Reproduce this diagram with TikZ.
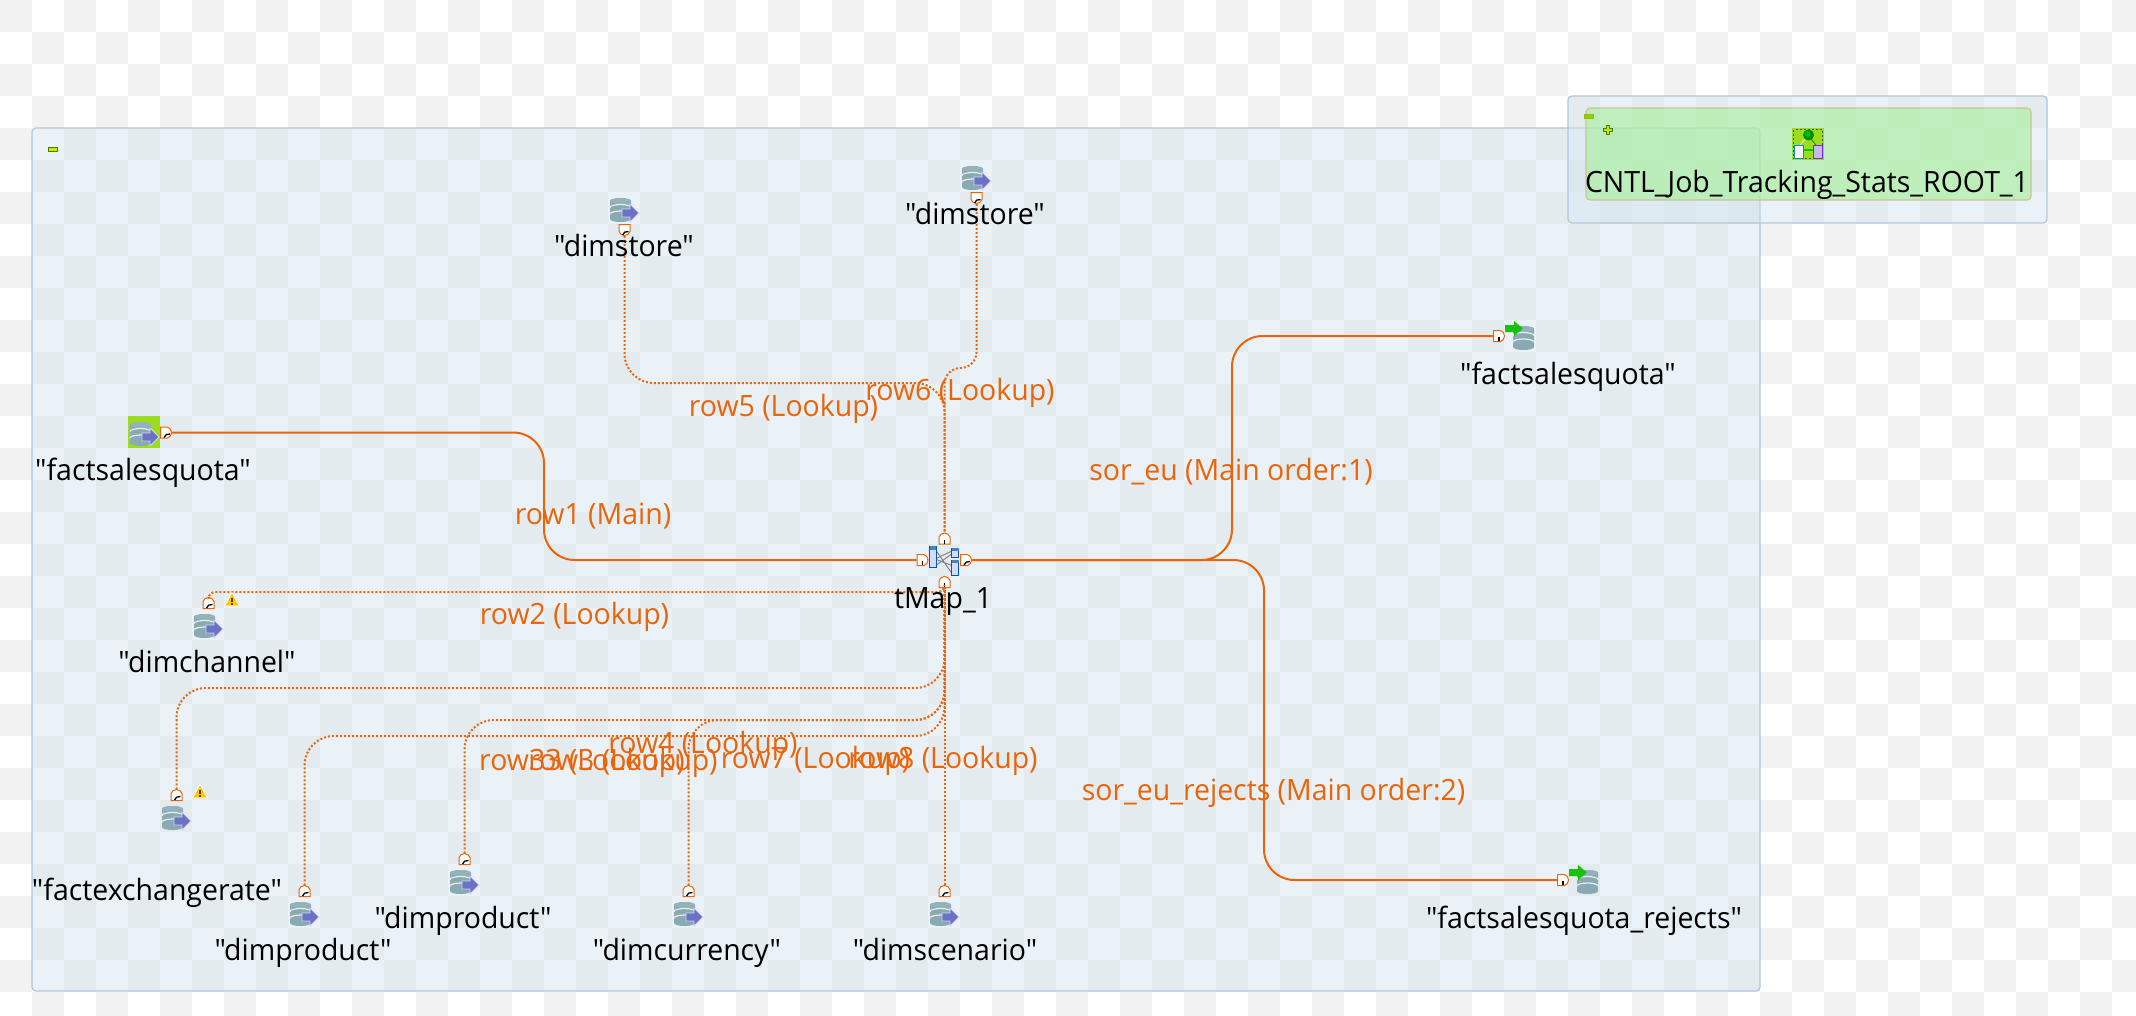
\documentclass[tikz,border=0pt]{standalone}
\usepackage{fontspec}
\newfontfamily\uif[FakeStretch=0.97]{Open Sans}
\usetikzlibrary{calc}
\definecolor{wirec}{HTML}{E8650A}
\definecolor{panelc}{HTML}{CFE2EC}
\definecolor{panelb}{HTML}{AFC6D8}
\definecolor{greenbox}{HTML}{A5F098}
\definecolor{greenb}{HTML}{C8C49A}
\definecolor{cyl}{HTML}{89A9B3}
\definecolor{arrowp}{HTML}{6B72C4}
\definecolor{arrowg}{HTML}{19C010}
\definecolor{lime}{HTML}{BBEE00}
\definecolor{limeb}{HTML}{4E7A00}
\definecolor{hilite}{HTML}{9ADC1E}
\definecolor{docp}{HTML}{C9B6F5}
\definecolor{docpb}{HTML}{7A2FD0}
\definecolor{warny}{HTML}{FFC800}
\tikzset{
  x=0.75pt,y=-0.75pt,
  wire/.style={draw=wirec,line width=1.5pt,rounded corners=23pt},
  lookup/.style={draw=wirec,line width=1.5pt,dash pattern=on 1.5pt off 1.5pt,rounded corners=22pt},
  lbl/.style={font=\uif\fontsize{22pt}{26pt}\selectfont,text=black,inner sep=0pt,anchor=base},
  olbl/.style={font=\uif\fontsize{22pt}{26pt}\selectfont,text=wirec,inner sep=0pt,anchor=base},
  portnode/.style={inner sep=0pt,minimum width=8.25pt,minimum height=8.25pt},
  cylpic/.pic={
    \fill[cyl] (0,3) arc[start angle=180,end angle=360,x radius=10.5,y radius=3] -- (21,21) arc[start angle=0,end angle=180,x radius=10.5,y radius=3] -- cycle;
    \fill[cyl!90!white] (10.5,3) ellipse[x radius=10.5,y radius=3];
    \draw[white!80!cyl,line width=0.9pt] (0,9.5) arc[start angle=180,end angle=360,x radius=10.5,y radius=3];
    \draw[white!80!cyl,line width=0.9pt] (0,16) arc[start angle=180,end angle=360,x radius=10.5,y radius=3];
  },
  dbin/.pic={
    \pic at (2,6) {cylpic};
    \filldraw[fill=arrowp,draw=white!70!arrowp,line width=0.6pt] (14,17) -- (22,17) -- (22,12) -- (31,21) -- (22,30) -- (22,25) -- (14,25) -- cycle;
  },
  dbout/.pic={
    \pic at (9,6) {cylpic};
    \fill[arrowg] (1,5) -- (10,5) -- (10,1) -- (19,8.5) -- (10,16) -- (10,12) -- (1,12) -- cycle;
  },
  portshape/.pic={
    \filldraw[fill=white,draw=wirec,line width=0.75pt] (-5.5,-5.5) -- (1.5,-5.5) .. controls (4,-5) and (5.5,-2) .. (5.5,0) .. controls (5.5,2) and (4,5) .. (1.5,5.5) -- (-5.5,5.5) -- cycle;
  },
  tickc/.pic={\draw[black,line width=1pt] (-2,5) .. controls (-1,2) and (1,1.5) .. (4,1.5);},
  tickl/.pic={\draw[black,line width=0.9pt] (0,1) -- (0,5);},
  warnt/.pic={
    \filldraw[fill=warny,draw=white,line width=0.6pt] (0,-7.5) -- (7.5,6) -- (-7.5,6) -- cycle;
    \draw[black!60!orange,line width=1.2pt] (0,-2.5) -- (0,1.5) (0,2.8) -- (0,4.6);
  },
}
\newcommand{\portn}[4]{%
  \node[portnode] (#1) at (#2) {};
  \pic[rotate=#3] at (#1) {portshape};
  \pic at (#1) {#4};
}
\begin{document}
\begin{tikzpicture}
\useasboundingbox (0,0) rectangle (2136,1015);
% checker background
\begin{scope}
  \clip (0,0) rectangle (2136,1015);
  \fill[white] (0,0) rectangle (2136,1015);
  \foreach \i in {0,...,66} \foreach \j in {0,...,31} {
    \pgfmathparse{int(mod(\i+\j,2))}
    \ifnum\pgfmathresult=0
      \fill[black!5] (\i*32,\j*32) rectangle ++(32,32);
    \fi
  }
\end{scope}
% panels
\filldraw[fill=panelc,fill opacity=0.42,draw=panelb,line width=0.9pt,rounded corners=3pt] (32,128) rectangle (1760,991);
\filldraw[fill=panelc,fill opacity=0.42,draw=panelb,line width=0.9pt,rounded corners=3pt] (1568,96) rectangle (2047,223);
\filldraw[fill=greenbox,fill opacity=0.6,draw=greenb,line width=0.9pt,rounded corners=3pt] (1586,108) rectangle (2031,200);
% collapse icons
\filldraw[fill=lime,draw=limeb,line width=0.7pt] (48.5,147.5) rectangle (57.5,151.5);
\filldraw[fill=lime!70!limeb,draw=lime!60!limeb,line width=0.7pt] (1584.5,114.5) rectangle (1593.5,118.5);
\filldraw[fill=lime,draw=limeb,line width=0.6pt] (1606.5,125.5) -- (1609.5,125.5) -- (1609.5,128.5) -- (1612.5,128.5) -- (1612.5,131.5) -- (1609.5,131.5) -- (1609.5,134.5) -- (1606.5,134.5) -- (1606.5,131.5) -- (1603.5,131.5) -- (1603.5,128.5) -- (1606.5,128.5) -- cycle;
% job icon
\fill[hilite] (1792,128) rectangle (1824,160);
\draw[black!70,line width=1pt,dash pattern=on 1.5pt off 1.5pt] (1793.5,129.5) rectangle (1822.5,158.5);
\draw[white,line width=0.5pt] (1800,145) -- (1806,138);
\draw[green!50!black,line width=0.5pt] (1816,145) -- (1810,138);
\draw[green!80!black,line width=0.8pt] (1803,150) -- (1813,150);
\fill[green!55!black] (1808.5,135) circle[radius=5.5];
\fill[green!75!black] (1807.5,134) circle[radius=3];
\filldraw[fill=blue!5,draw=cyan!70!blue,line width=0.7pt] (1794,145) rectangle (1803,158);
\filldraw[fill=docp,draw=docpb,line width=0.7pt] (1813,145) rectangle (1822,158);
% ports
\portn{pFact}{166,432.5}{0}{tickc}
\portn{pLeft}{922.5,560}{0}{tickl}
\portn{pRight}{966,560}{0}{tickc}
\portn{pTop}{944.5,538.5}{90}{tickl}
\portn{pBot}{944.5,582}{90}{tickl}
\portn{pOut}{1499,336}{0}{tickl}
\portn{pRej}{1563,880}{0}{tickl}
\portn{pStoreA}{624.5,230}{-90}{tickc}
\portn{pStoreB}{976.5,198}{-90}{tickc}
\portn{pChan}{208.5,603}{90}{tickc}
\portn{pExch}{176.5,795}{90}{tickc}
\portn{pProdA}{304.5,891}{90}{tickc}
\portn{pProdB}{464.5,859}{90}{tickc}
\portn{pCurr}{688.5,891}{90}{tickc}
\portn{pScen}{944.5,891}{90}{tickc}
% main wires
\draw[wire] (pFact.east) -- (544,432.5) -- (544,560) -- (pLeft.west);
\draw[wire] (pRight.east) -- (1232,560) -- (1232,336) -- (pOut.west);
\draw[wire] (pRight.east) -- (1264,560) -- (1264,880) -- (pRej.west);
% lookup wires
\draw[lookup] (pStoreA.south) -- (624.5,383) -- (944.5,383) -- (pTop.north);
\draw[lookup,rounded corners=12pt] (pStoreB.south) -- (976.5,368) -- (944.5,368) -- (pTop.north);
\draw[lookup,rounded corners=5pt] (pChan.north) -- (208.5,592) -- (944.5,592) -- (pBot.south);
\draw[lookup] (pExch.north) -- (176.5,688) -- (944.5,688) -- (pBot.south);
\draw[lookup] (pProdA.north) -- (304.5,736) -- (944.5,736) -- (pBot.south);
\draw[lookup] (pProdB.north) -- (464.5,720) -- (944.5,720) -- (pBot.south);
\draw[lookup] (pCurr.north) -- (688.5,720) -- (944.5,720) -- (pBot.south);
\draw[lookup] (pScen.north) -- (pBot.south);
% component icons
\fill[hilite] (128,416) rectangle (160,448);
\foreach \p in {(128,416),(608,192),(960,160),(192,608),(160,800),(288,896),(448,864),(672,896),(928,896)} \pic at \p {dbin};
\foreach \p in {(1504,320),(1568,864)} \pic at \p {dbout};
\pic at (232,600) {warnt};
\pic at (200,792) {warnt};
% tMap icon
\begin{scope}[line width=0.6pt]
  \draw[black!50,line width=0.7pt] (935,549) -- (953,575) (935,559) -- (952,551) (935,566) -- (953,553) (935,559) -- (953,566);
  \filldraw[fill=white!85!blue,draw=blue!50!cyan!70!black] (929.5,546) rectangle (936,567);
  \fill[blue!50!cyan!60!black!70] (929.5,546) rectangle (936,550);
  \filldraw[fill=white!85!blue,draw=blue!50!cyan!70!black] (951.5,548) rectangle (958.5,557);
  \fill[blue!50!cyan!60!black!70] (951.5,548) rectangle (958.5,551);
  \filldraw[fill=white!85!blue,draw=blue!50!cyan!70!black] (951.5,560) rectangle (958.5,575);
  \fill[blue!50!cyan!60!black!70] (951.5,560) rectangle (958.5,563);
\end{scope}
% black labels
\node[lbl] (tStoreA) at (624,256) {"dimstore"};
\node[lbl] (tStoreB) at (975,224) {"dimstore"};
\node[lbl] (tFact) at (143,480) {"factsalesquota"};
\node[lbl] (tOut) at (1568,384) {"factsalesquota"};
\node[lbl] (tChan) at (207,672) {"dimchannel"};
\node[lbl] (tExch) at (157,900) {"factexchangerate"};
\node[lbl] (tProdA) at (303,960) {"dimproduct"};
\node[lbl] (tProdB) at (463,928) {"dimproduct"};
\node[lbl] (tCurr) at (687,960) {"dimcurrency"};
\node[lbl] (tScen) at (945,960) {"dimscenario"};
\node[lbl] (tRej) at (1584,928) {"factsalesquota\_rejects"};
\node[lbl] (tMap) at (943,608) {tMap\_1};
\node[lbl] (tJob) at (1807,192) {CNTL\_Job\_Tracking\_Stats\_ROOT\_1};
% orange labels
\node[olbl] (lA) at (783.5,416) {row5 (Lookup)};
\node[olbl] (lB) at (960,400) {row6 (Lookup)};
\node[olbl] (lC) at (593,524) {row1 (Main)};
\node[olbl] (lD) at (1231,480) {sor\_eu (Main order:1)};
\node[olbl] (lE) at (574.5,624) {row2 (Lookup)};
\node[olbl] (lF) at (582,770) {row33 (Lookup)};
\node[olbl] (lG) at (623,770) {row3 (Lookup)};
\node[olbl] (lH) at (703,753) {row4 (Lookup)};
\node[olbl] (lI) at (815.5,768) {row7 (Lookup)};
\node[olbl] (lJ) at (943,768) {row8 (Lookup)};
\node[olbl] (lK) at (1273.5,800) {sor\_eu\_rejects (Main order:2)};
\end{tikzpicture}
\end{document}
